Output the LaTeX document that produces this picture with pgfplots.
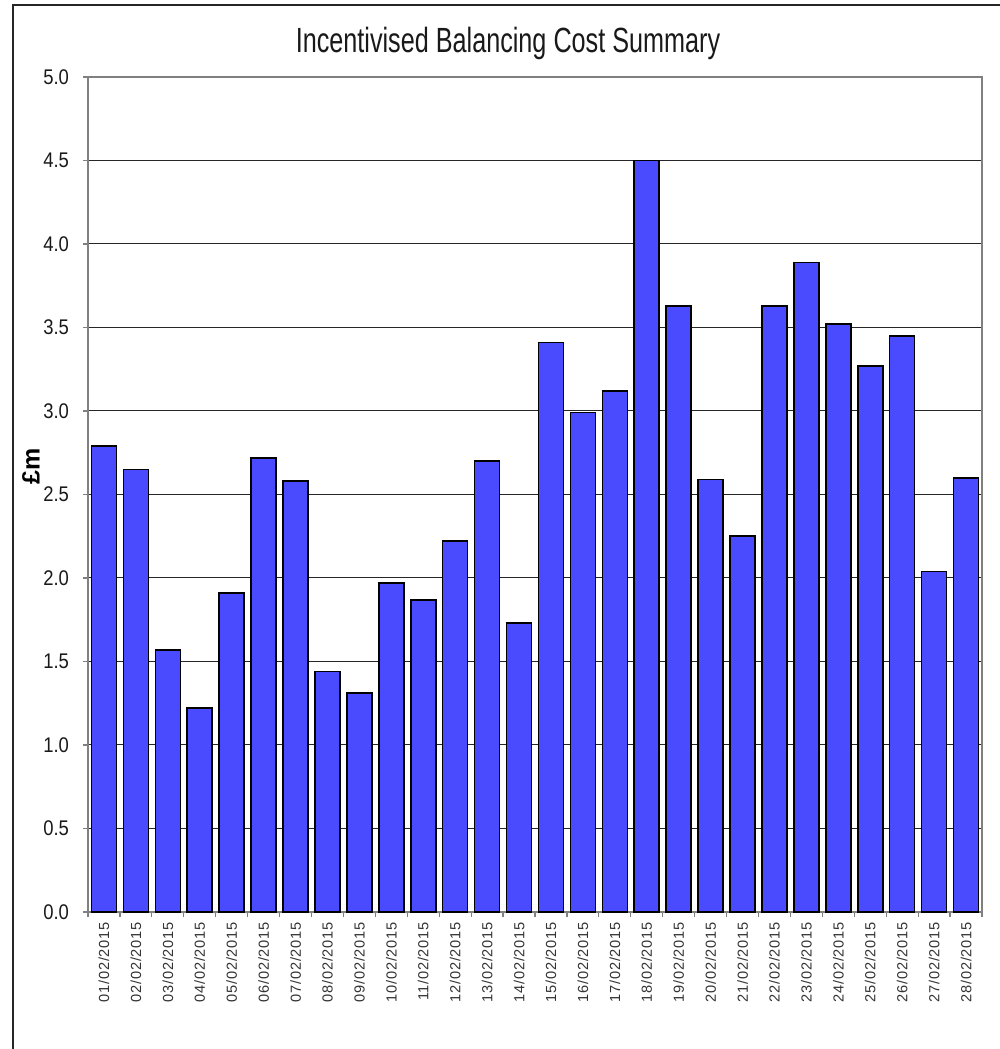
\documentclass[border=0pt]{standalone}
\usepackage{pgfplots}
\pgfplotsset{compat=1.18}
\usepackage{fontspec}
\setmainfont{Liberation Sans}
\newfontfamily\titlefont[FakeStretch=0.72]{Liberation Sans}
\newfontfamily\tickfont[FakeStretch=0.87]{Liberation Sans}
\newfontfamily\xtickfont[LetterSpace=5]{Liberation Sans}
\definecolor{barblue}{RGB}{74,74,255}
\definecolor{axisgray}{RGB}{128,128,128}
\begin{document}
\begin{tikzpicture}
\path[use as bounding box] (0,0) rectangle (500pt,524.5pt);
\draw[black!85, line width=0.7pt] (6.5pt,0) -- (6.5pt,522pt) -- (500pt,522pt);
\begin{axis}[
  at={(44pt,68.5pt)}, anchor=south west,
  scale only axis, width=447pt, height=417.5pt,
  xmin=0.5, xmax=28.5, ymin=0, ymax=5,
  ytick={0,0.5,1,1.5,2,2.5,3,3.5,4,4.5,5},
  xtick={0.5,1.5,...,28.5},
  xticklabels={},
  extra x ticks={1,2,...,28},
  extra x tick labels={01/02/2015,02/02/2015,03/02/2015,04/02/2015,05/02/2015,06/02/2015,07/02/2015,08/02/2015,09/02/2015,10/02/2015,11/02/2015,12/02/2015,13/02/2015,14/02/2015,15/02/2015,16/02/2015,17/02/2015,18/02/2015,19/02/2015,20/02/2015,21/02/2015,22/02/2015,23/02/2015,24/02/2015,25/02/2015,26/02/2015,27/02/2015,28/02/2015},
  extra x tick style={major tick length=0pt, grid=none,
    xticklabel style={yshift=-5pt, rotate=90, anchor=east, inner sep=0pt,
      font=\xtickfont\fontsize{7.3}{8}\selectfont, text=black!80}},
  tick pos=left,
  tick align=outside,
  major tick length=2.5pt,
  tick style={axisgray, line width=0.6pt},
  axis line style={axisgray, line width=0.8pt},
  ymajorgrids,
  grid style={black!85, line width=0.5pt},
  yticklabel style={xshift=-3.5pt, /pgf/number format/fixed, /pgf/number format/fixed zerofill,
    /pgf/number format/precision=1, /pgf/number format/assume math mode=true,
    font=\tickfont\fontsize{10.6}{11}\selectfont, text=black!90},
  ylabel={£m},
  ylabel style={at={(rel axis cs:-0.0638,0.534)}, anchor=center,
    font=\bfseries\fontsize{12.5}{13}\selectfont},
  title={Incentivised Balancing Cost Summary},
  title style={at={(rel axis cs:0.4698,1.0155)}, anchor=base,
    font=\titlefont\fontsize{17.5}{20}\selectfont, text=black!90},
]
\addplot[ybar, bar width=12.5pt, fill=barblue, draw=black, line width=0.8pt]
coordinates {
(1,2.79) (2,2.65) (3,1.57) (4,1.22) (5,1.91) (6,2.72) (7,2.58)
(8,1.44) (9,1.31) (10,1.97) (11,1.87) (12,2.22) (13,2.70) (14,1.73)
(15,3.41) (16,2.99) (17,3.12) (18,4.50) (19,3.63) (20,2.59) (21,2.25)
(22,3.63) (23,3.89) (24,3.52) (25,3.27) (26,3.45) (27,2.04) (28,2.60)
};
\end{axis}
\end{tikzpicture}
\end{document}
